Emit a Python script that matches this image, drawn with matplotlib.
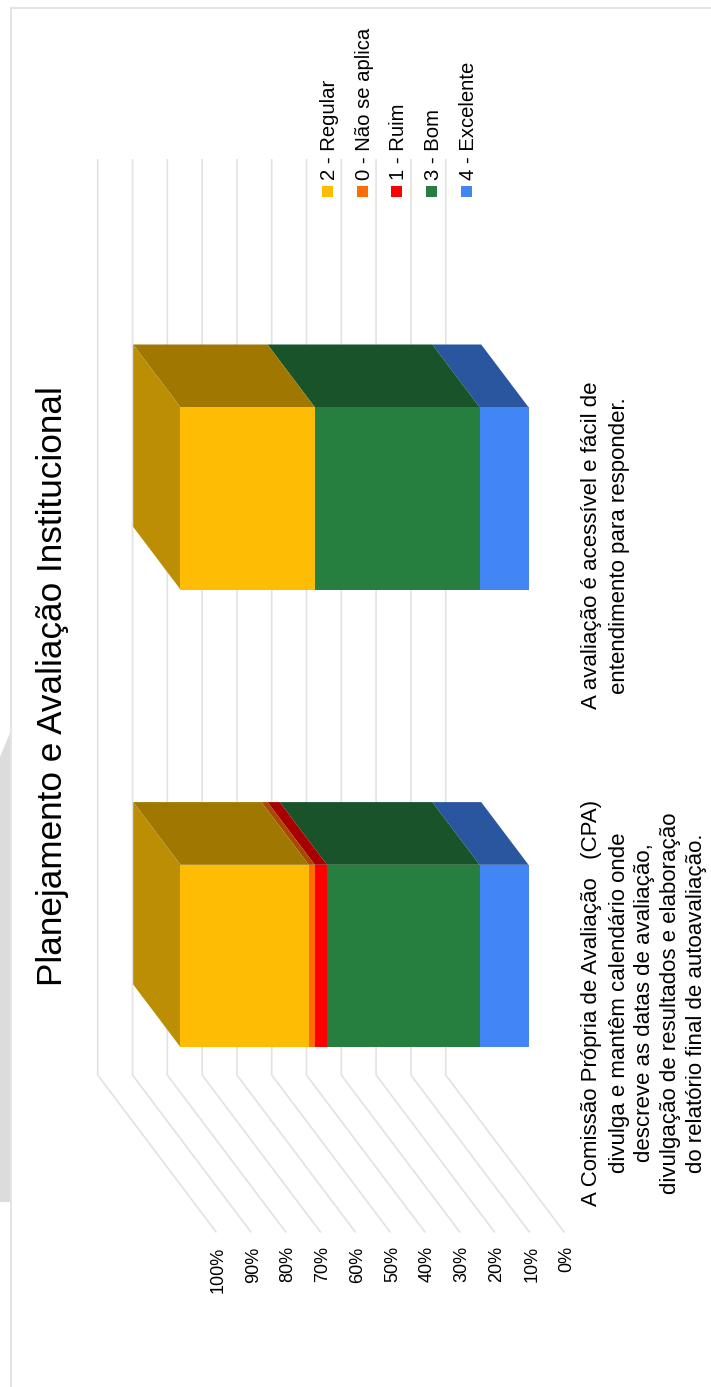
import matplotlib
matplotlib.use('Agg')
import matplotlib.pyplot as plt
from matplotlib.patches import Rectangle, Polygon

plt.rcParams['font.family'] = ['Liberation Sans', 'DejaVu Sans']

# dados
categorias = [
    ['A Comissão Própria de Avaliação   (CPA)',
     'divulga e mantêm calendário onde',
     'descreve as datas de avaliação,',
     'divulgação de resultados e elaboração',
     'do relatório final de autoavaliação.'],
    ['A avaliação é acessível e fácil de',
     'entendimento para responder.'],
]
excelente = [14.04, 14.04]
bom = [43.86, 47.37]
ruim = [3.51, 0.0]
nao_aplica = [1.75, 0.0]
regular = [36.84, 38.59]
ticks = [0, 10, 20, 30, 40, 50, 60, 70, 80, 90, 100]
legenda = ['2 - Regular', '0 - Não se aplica', '1 - Ruim', '3 - Bom', '4 - Excelente']
titulo = 'Planejamento e Avaliação Institucional'

# empilhamento de baixo para cima: valores, frente, topo
series = [
    (excelente, '#4285F4', '#2A569F'),
    (bom, '#267F3F', '#19532A'),
    (ruim, '#FF0000', '#A80000'),
    (nao_aplica, '#FF6D01', '#A84A00'),
    (regular, '#FFBC05', '#A07700'),
]
cores_legenda = ['#FFBC05', '#FF6D01', '#FF0000', '#267F3F', '#4285F4']
cor_lado = '#BC8E03'
cor_grade = '#E2E2E2'
cor_texto = '#000000'

W, H = 711, 1387
fig = plt.figure(figsize=(W / 100, H / 100), dpi=100)

# eixo em pixels para moldura, titulo e legenda
pg = fig.add_axes([0, 0, 1, 1])
pg.set_xlim(0, W)
pg.set_ylim(H, 0)
pg.axis('off')

# eixo do grafico: x em %, y em categorias (plano da frente das barras)
PX_0, PX_PCT = 528.5, 3.48
PY_0, PY_CAT = 956.0, 457.6
ax = fig.add_axes([0, 0, 1, 1])
ax.set_xlim(PX_0 / PX_PCT, (PX_0 - W) / PX_PCT)
ax.set_ylim((PY_0 - H) / PY_CAT, PY_0 / PY_CAT)
ax.axis('off')
ax.patch.set_alpha(0)

# deslocamento de profundidade de uma barra
DP = 47.3 / PX_PCT
DK = 62.7 / PY_CAT
ALTURA = 182.4 / PY_CAT
D_PAREDE = 1.75
D_CHAO = -0.75

# moldura da pagina
pg.plot([10.5, 10.5], [7.5, H], color='#DDDDDD', lw=1.1)
pg.plot([10.5, W], [7.5, 7.5], color='#DDDDDD', lw=1.1)
pg.add_patch(Polygon([(0, 757), (10, 733), (10, 1202), (0, 1202)],
                     facecolor='#DCDCDC', edgecolor='none'))

# grade: parede do fundo e chao
k_min, k_max = -0.5, 1.5
for t in ticks:
    ax.plot([t + D_CHAO * DP, t + D_PAREDE * DP, t + D_PAREDE * DP],
            [k_min + D_CHAO * DK, k_min + D_PAREDE * DK, k_max + D_PAREDE * DK],
            color=cor_grade, lw=1.2, solid_joinstyle='round', zorder=1)
    ax.annotate(f'{t}%', xy=(t + D_CHAO * DP, k_min + D_CHAO * DK),
                xytext=(7, -14.5), textcoords='offset pixels',
                rotation=90, rotation_mode='anchor', ha='right', va='baseline',
                fontsize=13, color=cor_texto)

# barras 3D
for i in range(len(categorias)):
    k0, k1 = i - ALTURA / 2, i + ALTURA / 2
    acum = 0.0
    for valores, cor, cor_topo in series:
        v = valores[i]
        if v > 0:
            ax.barh(i, v, left=acum, height=ALTURA, color=cor, zorder=4)
            ax.add_patch(Polygon([(acum, k1), (acum + v, k1),
                                  (acum + v + DP, k1 + DK), (acum + DP, k1 + DK)],
                                 facecolor=cor_topo, edgecolor='none', zorder=3))
        acum += v
    ax.add_patch(Polygon([(acum, k0), (acum, k1),
                          (acum + DP, k1 + DK), (acum + DP, k0 + DK)],
                         facecolor=cor_lado, edgecolor='none', zorder=3))

# rotulos das categorias
baselines = [597.5, 624.5, 650, 676, 702]
for i, linhas in enumerate(categorias):
    centro = PY_0 - (i + D_CHAO * DK) * PY_CAT
    for linha, bx in zip(linhas, baselines):
        pg.text(bx, centro, linha, rotation=90, rotation_mode='anchor',
                ha='center', va='baseline', fontsize=16, color=cor_texto)

# legenda
for j, (nome, cor) in enumerate(zip(legenda, cores_legenda)):
    cx = 327.2 + j * 34.8
    pg.add_patch(Rectangle((cx - 5.5, 186), 11, 11, facecolor=cor, edgecolor='none'))
    pg.text(cx + 7.5, 180, nome, rotation=90, rotation_mode='anchor',
            ha='left', va='baseline', fontsize=14.6, color=cor_texto)

# titulo
pg.text(62, 686, titulo, rotation=90, rotation_mode='anchor',
        ha='center', va='baseline', fontsize=25.3, color=cor_texto)

fig.savefig('out.png', dpi=100)
